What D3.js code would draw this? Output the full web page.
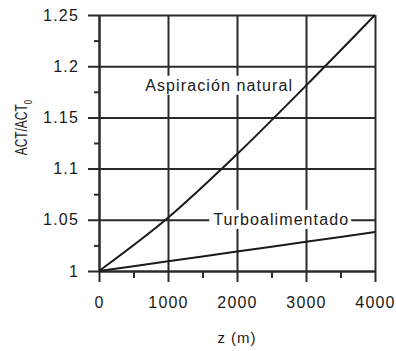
<!DOCTYPE html>
<html lang="es">
<head>
  <meta charset="UTF-8">
  <title>ACT/ACT0 vs altitud</title>
  <script src="https://d3js.org/d3.v7.min.js"></script>
  <style>
    body { margin: 0; background: #fff; }
    text { font-family: "Liberation Sans", Arial, sans-serif; fill: #1a1a1a; }
    .grid line { stroke: #2a2a2a; stroke-width: 2; }
    .domain { stroke: #2a2a2a; stroke-width: 2; }
  </style>
</head>
<body>
  <div id="chart"></div>
  <script>
    // datos
    const altitudes = [0, 1000, 2000, 3000, 4000];
    const aspiracionNatural = [1, 1.052, 1.114, 1.181, 1.25];
    const turboalimentado = [1, 1.0095, 1.019, 1.0285, 1.038];
    const xTicks = [0, 1000, 2000, 3000, 4000];
    const xMinor = [500, 1500, 2500, 3500];
    const yTicks = [1, 1.05, 1.1, 1.15, 1.2, 1.25];
    const yMinor = [1.025, 1.075, 1.125, 1.175, 1.225];
    const seriesNames = ["Aspiración natural", "Turboalimentado"];
    const labelPos = [[670, 1.176], [1655, 1.045]];

    const W = 396, H = 351;
    const margin = {top: 15, right: 21, bottom: 80, left: 99};
    const width = W - margin.left - margin.right,
          height = H - margin.top - margin.bottom;

    const svg = d3.select("#chart").append("svg")
      .attr("width", W).attr("height", H)
      .append("g")
      .attr("transform", `translate(${margin.left},${margin.top})`);

    const x = d3.scaleLinear().domain([0, 4000]).range([0, width]);
    const y = d3.scaleLinear().domain([1, 1.25]).range([height, 0]);

    // rejilla + eje y
    const gy = svg.append("g").attr("class", "grid")
      .call(d3.axisLeft(y).tickValues(yTicks).tickSize(11).tickSizeOuter(0)
        .tickPadding(9).tickFormat(d => String(d)));
    gy.selectAll(".tick line").attr("x1", -11).attr("x2", width);
    gy.selectAll(".tick text").style("font-size", "16px").style("letter-spacing", "1.2px");

    const gx = svg.append("g").attr("class", "grid")
      .attr("transform", `translate(0,${height})`)
      .call(d3.axisBottom(x).tickValues(xTicks).tickSize(11).tickSizeOuter(0)
        .tickPadding(15).tickFormat(d => String(d)));
    gx.selectAll(".tick line").attr("y1", 11).attr("y2", -height);
    gx.selectAll(".tick text").style("font-size", "16px").style("letter-spacing", "1.2px");

    // marcas menores
    svg.append("g").attr("class", "grid")
      .call(d3.axisLeft(y).tickValues(yMinor).tickSize(5).tickFormat(""))
      .select(".domain").remove();
    svg.append("g").attr("class", "grid")
      .attr("transform", `translate(0,${height})`)
      .call(d3.axisBottom(x).tickValues(xMinor).tickSize(7).tickFormat(""))
      .select(".domain").remove();

    // curvas
    const line = d3.line()
      .x(d => x(d[0]))
      .y(d => y(d[1]))
      .curve(d3.curveMonotoneX);
    [aspiracionNatural, turboalimentado].forEach(vals => {
      svg.append("path")
        .datum(altitudes.map((z, i) => [z, vals[i]]))
        .attr("fill", "none")
        .attr("stroke", "#1a1a1a")
        .attr("stroke-width", 2)
        .attr("d", line);
    });

    // etiquetas con fondo blanco
    seriesNames.forEach((name, i) => {
      const g = svg.append("g");
      const t = g.append("text")
        .attr("x", x(labelPos[i][0]))
        .attr("y", y(labelPos[i][1]))
        .style("font-size", "16px")
        .style("letter-spacing", "1.1px")
        .text(name);
      const b = t.node().getBBox();
      g.insert("rect", "text")
        .attr("x", b.x - 4).attr("y", b.y - 1)
        .attr("width", b.width + 6).attr("height", b.height + 2)
        .attr("fill", "#fff");
    });

    // títulos de ejes
    svg.append("text")
      .attr("x", x(2000)).attr("y", height + 72)
      .attr("text-anchor", "middle")
      .style("font-size", "15px")
      .style("letter-spacing", "1px")
      .text("z (m)");

    const yl = svg.append("text")
      .attr("transform", `translate(${-72},${y(1.14)}) rotate(-90) scale(0.7,1)`)
      .attr("text-anchor", "middle")
      .style("font-size", "17px");
    yl.append("tspan").text("ACT/ACT");
    yl.append("tspan").attr("dy", 5).style("font-size", "11px").text("0");
  </script>
</body>
</html>
